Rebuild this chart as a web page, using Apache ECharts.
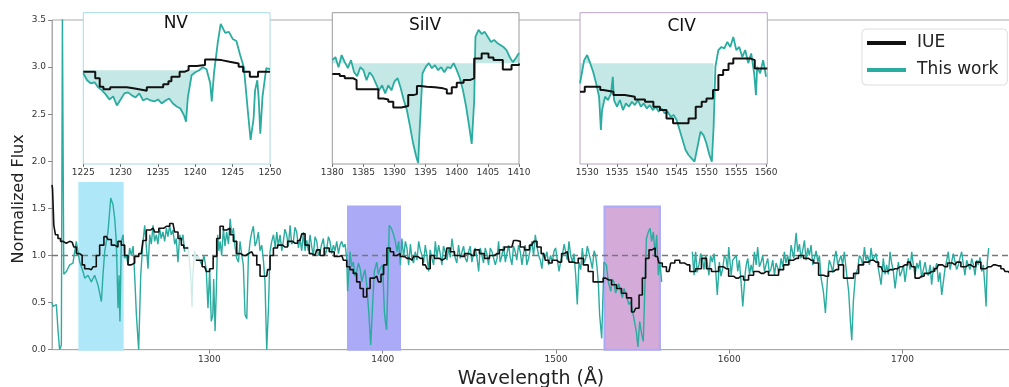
<!DOCTYPE html>
<html><head><meta charset="utf-8">
<script src="https://cdn.jsdelivr.net/npm/echarts@6/dist/echarts.min.js"></script>
<style>html,body{margin:0;padding:0;background:#fff}#c{width:1009px;height:387px}</style>
</head><body><div id="c"></div>
<script>
// ---------- DATA (wavelength in Å, normalized flux) ----------
const xTicksMain = [1300, 1400, 1500, 1600, 1700];
const yTicksMain = [0, 0.5, 1.0, 1.5, 2.0, 2.5, 3.0, 3.5];

// IUE spectrum (main panel)
const iueMain = [[1209.2,1.75],[1209.8,1.71],[1210.7,1.32],[1211.7,1.22],[1213.6,1.18],[1214.6,1.15],[1216.5,1.13],[1218.4,1.15],[1220.4,1.14],[1221.3,1.16],[1222.3,1.09],[1224.2,1.02],[1226.1,1.0],[1227.1,0.9],[1229.0,0.86],[1231.9,0.85],[1233.8,0.88],[1235.7,1.0],[1237.7,1.11],[1240.6,1.2],[1242.5,1.17],[1244.4,1.11],[1246.3,1.09],[1248.2,1.15],[1250.2,1.11],[1252.1,1.0],[1254.0,0.9],[1255.9,0.92],[1257.9,0.99],[1260.7,1.02],[1262.7,1.16],[1264.6,1.27],[1267.5,1.29],[1269.4,1.25],[1272.3,1.29],[1275.2,1.31],[1279.0,1.34],[1280.9,1.25],[1282.9,1.18],[1284.8,1.11],[1285.7,1.08],[1290,null],
[1294.4,0.95],[1297.3,0.88],[1299.2,0.83],[1301.1,0.86],[1303.3,0.99],[1305.2,1.18],[1307.1,1.31],[1309.0,1.27],[1311.0,1.29],[1312.9,1.22],[1314.8,1.15],[1316.8,1.02],[1319.6,1.0],[1322.5,1.02],[1324.5,1.04],[1326.4,1.0],[1328.3,0.9],[1330.2,0.78],[1333.1,0.78],[1334.1,0.85],[1336.0,1.0],[1337.9,1.08],[1340.8,1.11],[1343.7,1.09],[1346.6,1.15],[1349.5,1.13],[1352.3,1.16],[1354.3,1.23],[1356.2,1.11],[1359.1,1.02],[1361.0,1.0],[1362.9,1.06],[1364.8,1.0],[1367.7,1.08],[1370.6,1.04],[1373.5,0.99],[1376.4,1.0],[1378.3,0.95],[1380.2,0.88],[1382.1,0.85],[1384.0,0.81],[1386.0,0.72],[1387.9,0.65],[1389.8,0.56],[1391.8,0.65],[1393.7,0.76],[1396.6,0.78],[1398.5,0.72],[1399.6,0.8],[1401.5,0.9],[1403.4,1.08],[1405.4,1.04],[1407.3,1.0],[1409.2,1.02],[1411.1,0.99],[1414.0,0.97],[1416.9,0.95],[1418.8,0.99],[1421.7,0.97],[1424.6,0.9],[1426.5,0.86],[1428.4,1.0],[1431.3,0.97],[1434.2,0.95],[1436.1,0.97],[1438.1,1.08],[1440.0,1.04],[1442.9,1.0],[1445.8,0.99],[1448.6,1.02],[1451.5,1.0],[1454.4,1.06],[1457.3,1.02],[1460.2,0.97],[1463.1,1.0],[1465.9,1.02],[1468.8,1.06],[1471.7,1.09],[1474.6,1.09],[1476.5,1.16],[1478.4,1.15],[1480.4,1.09],[1483.3,1.06],[1486.1,1.11],[1488.1,1.15],[1490.0,1.09],[1492.9,1.02],[1494.8,0.95],[1496.7,0.92],[1498.9,0.95],[1501.8,0.93],[1504.7,1.02],[1506.6,1.04],[1508.5,0.93],[1511.4,0.92],[1514.3,0.97],[1517.2,0.9],[1520.0,0.83],[1522.9,0.72],[1525.8,0.72],[1528.7,0.76],[1530.6,0.74],[1533.5,0.69],[1536.4,0.65],[1539.3,0.6],[1542.2,0.55],[1545.0,0.4],[1547.0,0.44],[1548.9,0.58],[1550.8,0.76],[1552.7,0.97],[1554.7,1.06],[1556.0,1.08],[1558.5,0.99],[1560.4,0.92],[1562.3,0.88],[1565.2,0.83],[1567.2,0.92],[1570.0,0.95],[1572.9,0.92],[1575.8,0.9],[1578.7,0.83],[1582.5,0.86],[1585.4,0.97],[1588.3,0.86],[1591.2,0.83],[1592.4,0.83],[1595.3,0.88],[1598.2,0.86],[1601.1,0.78],[1603.9,0.76],[1606.8,0.78],[1609.7,0.74],[1612.6,0.79],[1615.5,0.83],[1618.4,0.81],[1621.2,0.83],[1624.1,0.79],[1627.0,0.79],[1629.9,0.85],[1632.8,0.9],[1635.7,0.95],[1638.6,0.97],[1641.4,1.0],[1644.3,0.97],[1647.2,0.95],[1650.1,0.92],[1653.0,0.79],[1655.9,0.78],[1658.7,0.83],[1661.6,0.85],[1664.5,0.9],[1667.4,0.76],[1670.3,0.76],[1673.2,0.81],[1676.1,0.9],[1678.9,0.93],[1681.8,0.95],[1684.7,0.93],[1687.6,0.88],[1689.9,0.83],[1692.8,0.85],[1695.7,0.86],[1698.5,0.88],[1701.4,0.9],[1704.3,0.93],[1706.2,0.88],[1708.2,0.76],[1711.0,0.78],[1713.9,0.81],[1716.8,0.83],[1719.7,0.86],[1721.6,0.9],[1724.5,0.88],[1727.4,0.92],[1730.3,0.9],[1732.2,0.93],[1735.1,0.88],[1738.0,0.9],[1740.8,0.88],[1743.7,0.93],[1746.6,0.86],[1749.5,0.88],[1752.4,0.9],[1755.3,0.89],[1758.2,0.86],[1760.1,0.83],[1762.0,0.81]];

// "This work" spectrum (main panel)
const workMain = [[1209.2,0.5],[1209.8,0.46],[1210.7,0.44],[1211.7,0.48],[1212.7,0.2],[1213.6,0.0],[1214.6,0.05],[1215.2,3.6],[1216.0,0.8],[1217.5,0.83],[1219.4,0.9],[1221.3,0.92],[1223.2,1.15],[1224.2,1.04],[1225.2,0.93],[1227.1,0.83],[1228.1,0.76],[1230.0,0.79],[1231.9,0.72],[1233.8,0.79],[1235.7,0.69],[1237.7,0.51],[1238.6,0.79],[1239.6,1.04],[1241.5,1.25],[1243.1,1.61],[1244.4,1.54],[1245.4,1.39],[1246.3,1.15],[1247.3,0.44],[1247.9,0.79],[1248.4,0.3],[1249.2,1.15],[1250.2,1.22],[1251.1,0.97],[1252.1,1.0],[1253.1,0.9],[1254.0,1.08],[1255.0,1.0],[1256.0,1.1],[1256.9,0.79],[1257.9,0.37],[1259.2,0.0],[1260.4,0.79],[1261.7,1.15],[1262.7,1.32],[1263.6,1.1],[1264.6,0.86],[1265.6,1.22],[1266.5,1.12],[1267.5,1.32],[1268.4,1.15],[1269.4,1.22],[1270.3,1.12],[1271.3,1.29],[1272.2,1.18],[1273.2,1.25],[1274.2,1.15],[1275.2,1.29],[1276.1,1.2],[1277.1,1.32],[1278.0,1.22],[1279.0,1.27],[1280.0,1.12],[1280.9,1.18],[1281.9,0.93],[1282.9,1.22],[1283.8,1.15],[1284.8,1.22],[1285.7,1.04],[1290,null],
[1294.4,0.95],[1295.7,0.9],[1296.9,1.0],[1298.2,0.85],[1299.2,0.44],[1300.2,0.85],[1301.1,0.3],[1302.0,0.37],[1302.5,0.75],[1303.3,0.2],[1304.0,0.62],[1304.8,1.22],[1305.5,1.05],[1306.2,1.15],[1307.1,1.0],[1308.1,1.29],[1309.0,1.1],[1310.0,1.25],[1311.0,1.12],[1312.0,1.39],[1312.9,1.22],[1313.9,1.29],[1314.8,1.1],[1315.8,0.97],[1316.8,0.93],[1317.7,1.15],[1318.7,1.0],[1319.6,0.9],[1320.6,0.37],[1321.6,0.33],[1322.5,0.97],[1323.5,1.15],[1324.5,1.25],[1325.4,1.31],[1326.4,1.1],[1327.3,1.15],[1328.3,1.25],[1329.2,1.05],[1330.2,1.11],[1331.2,0.95],[1332.1,0.72],[1333.1,0.0],[1334.1,0.44],[1335.0,1.04],[1336.0,1.15],[1337.0,1.22],[1338.0,1.08],[1338.9,1.25],[1339.8,1.1],[1340.8,1.22],[1341.8,1.05],[1342.7,1.15],[1343.6,1.28],[1344.6,1.22],[1345.6,1.1],[1346.6,1.32],[1347.5,1.12],[1348.5,1.15],[1349.4,1.3],[1350.4,1.25],[1351.4,1.08],[1352.3,1.18],[1353.3,1.05],[1354.3,1.25],[1355.2,1.05],[1356.2,1.16],[1357.1,1.05],[1358.1,1.22],[1359.0,1.1],[1360.0,1.0],[1361.0,1.2],[1362.0,1.15],[1362.9,1.0],[1363.9,1.04],[1364.8,1.12],[1365.8,1.18],[1366.8,1.0],[1367.7,1.06],[1368.7,1.2],[1369.6,1.15],[1370.6,1.02],[1371.6,1.11],[1372.5,1.05],[1373.5,1.15],[1374.5,1.02],[1375.4,1.11],[1376.4,1.15],[1377.3,1.09],[1378.3,1.12],[1379.3,0.97],[1379.8,0.62],[1381.2,1.04],[1382.1,0.88],[1383.1,0.93],[1384.0,0.78],[1385.0,0.83],[1386.0,0.92],[1387.0,0.86],[1388.0,0.72],[1388.9,0.79],[1389.8,0.85],[1390.8,0.69],[1392.1,0.37],[1393.1,0.05],[1394.1,0.44],[1395.2,0.83],[1396.6,0.93],[1397.5,0.8],[1398.5,0.86],[1400.0,0.9],[1401.0,0.4],[1401.7,0.28],[1402.3,0.21],[1403.1,0.79],[1403.8,1.32],[1405.0,1.29],[1406.3,1.22],[1407.3,1.15],[1408.3,1.04],[1409.2,1.15],[1410.2,0.9],[1411.1,1.18],[1412.1,0.98],[1413.1,1.15],[1414.0,1.08],[1415.0,0.9],[1416.0,1.12],[1416.9,0.97],[1417.8,0.92],[1418.8,1.04],[1419.8,0.95],[1420.8,1.15],[1421.7,1.06],[1422.7,1.0],[1423.6,0.92],[1424.6,1.11],[1425.5,1.0],[1426.5,0.83],[1427.4,1.06],[1428.4,0.97],[1429.4,0.9],[1430.4,1.15],[1431.3,0.98],[1432.3,1.11],[1433.2,1.02],[1434.2,0.9],[1435.1,1.1],[1436.1,1.04],[1437.1,0.95],[1438.1,1.08],[1439.0,0.98],[1440.0,1.18],[1440.9,1.06],[1441.9,0.97],[1442.8,0.92],[1443.8,1.11],[1444.8,0.97],[1445.8,1.04],[1446.7,1.1],[1447.7,0.97],[1448.6,0.93],[1449.6,1.04],[1450.5,1.1],[1451.5,0.93],[1452.4,1.02],[1453.4,1.08],[1454.4,0.98],[1455.4,0.83],[1456.3,1.08],[1457.3,1.0],[1458.2,0.92],[1459.2,1.08],[1460.1,1.02],[1461.1,0.9],[1462.1,1.08],[1463.1,1.04],[1464.0,1.06],[1465.0,0.9],[1466.0,0.97],[1466.9,1.15],[1467.8,0.93],[1468.8,1.0],[1469.8,1.1],[1470.8,0.93],[1471.7,1.02],[1472.7,1.11],[1473.6,0.98],[1474.6,0.9],[1475.5,1.1],[1476.5,1.04],[1477.4,0.95],[1478.4,1.11],[1479.4,1.04],[1480.4,0.9],[1481.3,1.02],[1482.3,1.11],[1483.2,0.9],[1484.2,0.97],[1485.1,1.06],[1486.1,1.15],[1487.1,1.0],[1488.1,1.22],[1489.0,1.1],[1490.0,1.0],[1491.0,0.95],[1491.9,0.86],[1492.8,1.03],[1493.8,0.97],[1494.8,1.04],[1495.8,0.9],[1496.9,1.0],[1497.9,0.93],[1498.9,1.05],[1499.8,1.08],[1500.8,0.95],[1501.8,0.83],[1502.8,0.95],[1503.7,1.0],[1504.7,1.12],[1505.6,1.11],[1506.6,0.95],[1507.5,1.15],[1508.5,1.0],[1509.5,0.93],[1510.4,1.02],[1511.4,0.79],[1512.3,0.48],[1513.3,0.93],[1514.3,0.85],[1515.2,1.08],[1516.2,0.92],[1517.2,0.97],[1518.1,1.1],[1519.1,1.08],[1520.0,0.95],[1521.0,0.86],[1522.0,1.05],[1522.9,1.0],[1523.7,0.88],[1524.5,0.69],[1525.2,0.37],[1526.4,0.12],[1527.7,0.93],[1529.1,0.9],[1530.2,0.72],[1531.6,0.62],[1532.5,0.75],[1533.5,0.72],[1534.4,0.6],[1535.4,0.65],[1536.3,0.7],[1537.3,0.62],[1538.3,0.55],[1539.3,0.65],[1540.2,0.6],[1541.2,0.58],[1542.1,0.48],[1543.1,0.51],[1545.0,0.33],[1546.4,0.19],[1547.3,0.03],[1548.3,0.3],[1549.5,0.16],[1550.4,0.09],[1551.4,0.72],[1552.2,1.18],[1553.3,1.25],[1554.3,1.29],[1555.2,1.15],[1556.2,1.25],[1557.2,1.0],[1558.1,1.22],[1559.1,0.79],[1560.0,0.93],[1561.0,0.72],[1570,null],
[1578.7,1.04],[1579.2,0.9],[1579.7,0.79],[1580.1,0.95],[1580.6,1.04],[1581.5,0.82],[1582.5,0.9],[1583.5,1.02],[1584.5,0.97],[1585.4,0.85],[1586.4,1.0],[1587.3,0.92],[1588.3,0.79],[1589.2,1.0],[1590.2,0.93],[1591.2,1.02],[1592.2,0.83],[1593.1,0.58],[1594.3,0.93],[1595.2,0.78],[1596.2,0.86],[1597.2,1.0],[1598.2,0.97],[1599.0,0.85],[1599.7,1.09],[1601.1,0.79],[1602.0,0.95],[1603.0,0.93],[1604.0,1.0],[1604.9,0.83],[1605.8,0.95],[1606.8,0.72],[1607.8,0.46],[1609.3,0.83],[1610.0,0.92],[1610.7,0.97],[1611.7,0.8],[1612.6,0.9],[1613.5,0.82],[1614.5,1.04],[1615.5,0.9],[1616.4,1.09],[1617.4,0.88],[1618.4,0.93],[1619.3,1.0],[1620.3,0.83],[1621.2,0.9],[1622.2,0.97],[1623.1,0.82],[1624.1,0.86],[1625.1,0.95],[1626.1,0.79],[1627.0,0.92],[1628.0,0.9],[1628.9,0.82],[1629.9,0.97],[1630.9,0.88],[1631.8,1.04],[1632.7,0.92],[1633.7,1.0],[1634.7,0.9],[1635.7,1.11],[1637.2,0.97],[1638.6,1.24],[1639.5,1.04],[1640.5,1.12],[1641.4,0.97],[1642.4,1.06],[1643.4,1.16],[1644.3,0.95],[1645.3,1.08],[1646.2,1.0],[1647.2,1.11],[1648.2,0.9],[1649.1,0.97],[1650.1,1.05],[1651.1,0.93],[1652.0,1.0],[1653.0,0.76],[1654.3,0.62],[1655.5,0.39],[1656.8,0.79],[1657.7,0.95],[1658.7,0.9],[1659.7,0.82],[1660.7,0.97],[1661.6,1.05],[1662.6,0.9],[1663.5,0.95],[1664.5,1.0],[1665.4,0.9],[1666.4,1.04],[1667.8,0.79],[1668.9,0.62],[1669.9,0.3],[1670.7,0.1],[1671.6,0.51],[1672.8,0.79],[1674.1,0.86],[1675.1,1.0],[1676.1,0.97],[1677.0,0.9],[1678.0,1.09],[1678.9,0.95],[1679.9,1.0],[1680.9,0.9],[1681.8,1.08],[1682.8,0.95],[1683.7,0.93],[1684.7,1.02],[1685.7,0.9],[1686.6,0.8],[1687.6,0.69],[1688.9,0.97],[1689.9,0.8],[1690.8,0.9],[1691.8,0.8],[1692.8,1.04],[1693.7,0.92],[1694.7,0.83],[1695.7,0.65],[1696.6,0.8],[1697.6,0.93],[1698.5,0.78],[1699.5,0.83],[1700.5,0.9],[1701.4,0.72],[1702.4,0.85],[1703.3,0.97],[1704.3,0.85],[1705.3,1.04],[1706.2,0.9],[1707.2,0.79],[1708.2,0.92],[1709.1,0.86],[1710.1,0.95],[1711.0,0.76],[1712.0,0.85],[1713.0,0.93],[1713.9,0.82],[1714.9,0.79],[1715.9,0.9],[1716.8,0.69],[1717.8,0.88],[1718.7,0.83],[1719.7,0.92],[1720.7,0.72],[1721.6,0.82],[1722.6,0.58],[1724.5,0.86],[1725.5,0.95],[1726.4,1.04],[1727.4,0.85],[1728.3,0.93],[1729.3,1.02],[1730.3,1.0],[1731.2,0.85],[1732.2,0.9],[1733.2,0.98],[1734.1,1.04],[1735.1,0.9],[1736.0,0.79],[1737.0,0.95],[1738.0,0.93],[1738.9,0.85],[1739.9,0.97],[1740.9,0.9],[1741.8,0.79],[1742.8,0.95],[1743.7,0.9],[1744.7,0.98],[1745.7,0.83],[1746.6,0.9],[1747.6,0.65],[1748.2,0.46],[1748.9,0.93],[1749.7,1.08]];

// faint detector-gap segment of "This work"
const workGap = [[1285.7,1.04],[1286.5,1.05],[1287.5,1.1],[1288.5,0.95],[1289.5,0.7],[1290.0,0.45],[1290.5,0.8],[1291.5,1.05],[1292.5,0.95],[1293.5,1.0],[1294.4,0.95]];

// highlighted line regions in the main panel
const bandStart = [1225, 1380, 1528];
const bandEnd = [1250, 1410, 1560];
const bandTop = [1.77, 1.52, 1.52];
const continuumLevel = 1.0;

// ---- Insets (flux in inset units 0..1.5) ----
const insetNames = ['NV', 'SiIV', 'CIV'];
const insetRanges = [[1225, 1250], [1380, 1410], [1528.8, 1560.2]];
const doubletBlue = [1238.8, 1393.76, 1548.2];
const doubletOrange = [1242.8, 1402.77, 1550.8];
const fillLevel = [0.93, 1.0, 1.0];
const fillEnd = [1241.3, 1410, 1551.4];
const nvGrayBand = [1241.3, 1250, 0.86, 0.965];

const nvWork = [[1225.0,0.9],[1225.5,0.83],[1226.0,0.8],[1226.5,0.81],[1227.0,0.76],[1227.5,0.73],[1228.0,0.69],[1228.5,0.64],[1229.0,0.67],[1229.5,0.58],[1230.0,0.64],[1230.5,0.7],[1231.0,0.71],[1231.5,0.68],[1232.0,0.66],[1232.5,0.7],[1233.0,0.63],[1233.5,0.65],[1234.0,0.63],[1234.5,0.62],[1235.0,0.64],[1235.5,0.6],[1236.0,0.63],[1236.5,0.65],[1237.0,0.6],[1237.5,0.57],[1238.0,0.55],[1238.5,0.48],[1238.75,0.42],[1239.0,0.66],[1239.5,0.88],[1240.0,0.91],[1240.5,0.93],[1241.0,0.96],[1241.5,0.94],[1242.0,0.8],[1242.2,0.62],[1242.5,0.9],[1243.0,1.2],[1243.4,1.39],[1244.0,1.3],[1244.5,1.31],[1245.0,1.24],[1245.5,1.22],[1246.0,1.08],[1246.5,0.96],[1247.0,0.55],[1247.4,0.24],[1247.8,0.45],[1248.0,0.73],[1248.3,0.83],[1248.5,0.63],[1248.7,0.3],[1249.0,0.67],[1249.5,0.95],[1250.0,0.94]];
const nvIue = [[1225,0.915],[1226.6,0.849],[1227.2,0.766],[1227.7,0.74],[1228.6,0.76],[1229.7,0.76],[1230.8,0.75],[1231.7,0.733],[1233.0,0.726],[1233.5,0.76],[1234.6,0.76],[1235.7,0.79],[1236.4,0.82],[1236.8,0.865],[1237.9,0.915],[1238.6,0.931],[1239.1,0.971],[1240.2,0.981],[1241.3,1.037],[1242.4,1.03],[1243.5,1.014],[1244.6,0.997],[1245.8,0.964],[1246.4,0.915],[1247.3,0.865],[1248.4,0.915],[1249.6,0.915],[1250,0.915]];

const siWork = [[1380.0,1.03],[1380.5,1.06],[1381.0,0.96],[1381.5,1.08],[1382.0,1.01],[1382.5,0.95],[1383.0,1.03],[1383.5,0.91],[1384.0,0.87],[1384.5,0.96],[1385.0,0.93],[1385.5,0.83],[1386.0,0.91],[1386.5,0.87],[1387.0,0.8],[1387.5,0.73],[1388.0,0.78],[1388.5,0.7],[1389.0,0.78],[1389.5,0.73],[1390.0,0.82],[1390.5,0.85],[1391.0,0.75],[1391.5,0.63],[1392.0,0.53],[1392.5,0.37],[1393.0,0.2],[1393.5,0.07],[1393.8,0.01],[1394.0,0.3],[1394.5,0.9],[1395.0,0.96],[1395.5,1.0],[1396.0,0.95],[1396.5,0.98],[1397.0,0.93],[1397.5,0.96],[1398.0,0.91],[1398.5,0.96],[1399.0,0.95],[1399.5,1.0],[1400.0,0.93],[1400.5,0.85],[1401.0,0.73],[1401.5,0.57],[1402.0,0.37],[1402.4,0.2],[1402.8,0.63],[1403.0,1.26],[1403.5,1.33],[1404.0,1.29],[1404.5,1.31],[1405.0,1.26],[1405.5,1.21],[1406.0,1.23],[1406.5,1.2],[1407.0,1.18],[1407.5,1.16],[1408.0,1.13],[1408.5,1.06],[1409.0,1.01],[1409.5,1.05],[1410.0,1.1]];
const siIue = [[1380,0.892],[1381.2,0.872],[1382,0.849],[1383.4,0.832],[1383.9,0.74],[1386.6,0.74],[1387.4,0.65],[1388.2,0.64],[1389,0.617],[1389.8,0.561],[1391.1,0.574],[1392.2,0.683],[1393,0.693],[1393.6,0.773],[1394.1,0.766],[1395.2,0.76],[1396.5,0.75],[1397.8,0.74],[1398.4,0.7],[1399.2,0.76],[1400,0.806],[1401.1,0.832],[1402.1,0.849],[1402.8,1.047],[1404,1.096],[1405.1,1.057],[1405.9,1.03],[1407.4,0.938],[1408.8,0.981],[1410,0.997]];

const cWork = [[1528.8,0.8],[1529.0,0.865],[1529.5,1.03],[1530.0,1.08],[1530.5,1.0],[1531.0,0.915],[1531.5,0.8],[1532.0,0.667],[1532.3,0.337],[1532.5,0.535],[1533.0,0.667],[1533.5,0.634],[1534.0,0.7],[1534.3,0.865],[1534.5,0.634],[1535.0,0.568],[1535.5,0.634],[1536.0,0.535],[1536.5,0.6],[1537.0,0.568],[1537.5,0.617],[1538.0,0.584],[1538.5,0.634],[1539.0,0.568],[1539.5,0.6],[1540.0,0.551],[1540.5,0.584],[1541.0,0.535],[1541.5,0.568],[1542.0,0.518],[1542.5,0.551],[1543.0,0.502],[1543.5,0.518],[1544.0,0.469],[1544.5,0.485],[1545.0,0.436],[1545.5,0.337],[1546.0,0.237],[1546.5,0.138],[1547.0,0.089],[1547.5,0.056],[1548.0,0.023],[1548.3,0.006],[1548.5,0.171],[1549.0,0.32],[1549.5,0.287],[1550.0,0.204],[1550.5,0.089],[1550.9,0.023],[1551.2,0.37],[1551.5,0.964],[1552.0,1.13],[1552.5,1.16],[1553.0,1.146],[1553.5,1.21],[1554.0,1.16],[1554.5,1.26],[1555.0,1.13],[1555.5,1.16],[1556.0,1.06],[1556.5,1.13],[1557.0,1.0],[1557.5,1.096],[1558.0,0.898],[1558.3,0.683],[1558.5,0.964],[1559.0,0.898],[1559.5,1.03],[1560.0,0.865]];
const cIue = [[1528.8,0.716],[1529.6,0.766],[1532.2,0.733],[1532.7,0.716],[1534.4,0.683],[1536.3,0.667],[1538,0.64],[1539.7,0.617],[1541.1,0.568],[1542.2,0.535],[1543.3,0.452],[1544.4,0.403],[1547,0.452],[1548.2,0.568],[1549.2,0.617],[1550,0.65],[1551.1,0.733],[1552,0.882],[1552.8,0.931],[1553.7,0.997],[1554.5,1.047],[1556.7,1.047],[1557.3,1.03],[1558.1,0.948],[1560.2,0.948]];

const insetWork = [nvWork, siWork, cWork];
const insetIue = [nvIue, siIue, cIue];

// ---------- STYLE / LAYOUT ----------
const FONT = 'DejaVu Sans';
const TEAL = '#2aaca0';
const TEAL_FILL = 'rgba(42,172,160,0.28)';
const bandColors = ['#aee8f8', '#aaaaf6', '#d4aad9'];
const bandBorders = ['#aee8f8', '#aaaaf6', '#aaaaf6'];
const insetBorder = ['#a6dbe6', '#9a9a9a', '#b8a4c8'];
const insetLeft = [83.3, 332.3, 580];
const insetWidth = [186.7, 186.7, 187.3];
const plainNum = v => String(Math.round(v * 1000) / 1000);

const grids = [{left: 52, top: 20, right: -1, bottom: 37.3, show: true, borderColor: '#aaa', borderWidth: 1, z: 0,
  outerBoundsMode: 'none', containLabel: false}];
const xAxes = [{
  type: 'value', gridIndex: 0, min: 1209.2, max: 1762, minInterval: 100, maxInterval: 100,
  axisLine: {show: true, lineStyle: {color: '#aaa'}}, axisTick: {show: true, length: 4, lineStyle: {color: '#888'}},
  axisLabel: {fontSize: 9, color: '#333', fontFamily: FONT, margin: 5, showMinLabel: false, showMaxLabel: false, formatter: plainNum},
  splitLine: {show: false},
  name: 'Wavelength (Å)', nameLocation: 'middle', nameGap: 20, nameMoveOverlap: false,
  nameTextStyle: {fontSize: 19, color: '#222', fontFamily: FONT}
}];
const yAxes = [{
  type: 'value', gridIndex: 0, min: 0, max: 3.5, interval: 0.5,
  axisLine: {show: true, lineStyle: {color: '#aaa'}}, axisTick: {show: true, length: 4, lineStyle: {color: '#888'}},
  axisLabel: {fontSize: 9, color: '#333', fontFamily: FONT, margin: 6, formatter: v => v.toFixed(1)},
  splitLine: {show: false},
  name: 'Normalized Flux', nameLocation: 'middle', nameGap: 25, nameMoveOverlap: false,
  nameTextStyle: {fontSize: 16, color: '#222', fontFamily: FONT, padding: [0, 28, 0, 0]}
}];

const series = [];
series.push({
  type: 'line', xAxisIndex: 0, yAxisIndex: 0, z: 1, symbol: 'none', silent: true,
  data: [[1209.2, continuumLevel], [1762, continuumLevel]],
  lineStyle: {color: '#777', width: 1.5, type: [6, 4]},
  markArea: {silent: true, data: bandStart.map((s, i) => [
    {xAxis: s, yAxis: 0, itemStyle: {color: bandColors[i], borderColor: bandBorders[i], borderWidth: 2, opacity: 1}},
    {xAxis: bandEnd[i], yAxis: bandTop[i]}
  ])}
});
series.push({type: 'line', xAxisIndex: 0, yAxisIndex: 0, z: 2, symbol: 'none', data: workGap,
  lineStyle: {color: '#cdece8', width: 1.3}});
series.push({name: 'This work', type: 'line', xAxisIndex: 0, yAxisIndex: 0, z: 2, symbol: 'none', data: workMain,
  connectNulls: false, itemStyle: {color: TEAL}, lineStyle: {color: TEAL, width: 1.4}});
series.push({name: 'IUE', type: 'line', step: 'middle', xAxisIndex: 0, yAxisIndex: 0, z: 3, symbol: 'none', data: iueMain,
  connectNulls: false, itemStyle: {color: '#111'}, lineStyle: {color: '#111', width: 1.6}});

const graphics = [];
for (let k = 0; k < 3; k++) {
  const gi = k + 1;
  grids.push({left: insetLeft[k], top: 12.7, width: insetWidth[k], height: 151.3, show: true,
    backgroundColor: '#fff', borderColor: insetBorder[k], borderWidth: 1, z: 10, outerBoundsMode: 'none', containLabel: false});
  xAxes.push({type: 'value', gridIndex: gi, min: insetRanges[k][0], max: insetRanges[k][1], minInterval: 5, maxInterval: 5, z: 11,
    axisLine: {show: false}, axisTick: {show: true, length: 3, lineStyle: {color: '#777'}},
    axisLabel: {fontSize: 9, color: '#333', fontFamily: FONT, margin: 4, formatter: plainNum,
      showMinLabel: k < 2, showMaxLabel: k < 2},
    splitLine: {show: false}});
  yAxes.push({type: 'value', gridIndex: gi, min: 0, max: 1.5, show: false, splitLine: {show: false}});
  series.push({type: 'line', xAxisIndex: gi, yAxisIndex: gi, z: 12, symbol: 'none', silent: true,
    data: insetWork[k].filter(p => p[0] <= fillEnd[k]),
    lineStyle: {width: 0}, areaStyle: {origin: fillLevel[k], color: TEAL_FILL, opacity: 1},
    markArea: k === 0 ? {silent: true, itemStyle: {color: 'rgba(190,190,190,0.6)'},
      data: [[{xAxis: nvGrayBand[0], yAxis: nvGrayBand[2]}, {xAxis: nvGrayBand[1], yAxis: nvGrayBand[3]}]]} : undefined
  });
  series.push({type: 'line', xAxisIndex: gi, yAxisIndex: gi, z: 13, symbol: 'none', data: insetWork[k],
    lineStyle: {color: TEAL, width: 1.8}});
  series.push({type: 'line', step: 'end', xAxisIndex: gi, yAxisIndex: gi, z: 14, symbol: 'none', data: insetIue[k],
    lineStyle: {color: '#111', width: 2},
    markLine: {silent: true, symbol: 'none', label: {show: false},
      data: [
        {xAxis: doubletBlue[k], lineStyle: {color: '#2b6fa6', width: 1.4, type: [4, 3]}},
        {xAxis: doubletOrange[k], lineStyle: {color: '#e7922c', width: 2, type: [4, 3]}}
      ]}
  });
}
graphics.push({type: 'text', x: 188, y: 24, z: 50, style: {text: insetNames[0], fontSize: 17, fontFamily: FONT, fill: '#111', textAlign: 'right', align: 'right', textVerticalAlign: 'middle', verticalAlign: 'middle'}});
graphics.push({type: 'text', x: 409, y: 26, z: 50, style: {text: insetNames[1], fontSize: 17, fontFamily: FONT, fill: '#111', textAlign: 'left', align: 'left', textVerticalAlign: 'middle', verticalAlign: 'middle'}});
graphics.push({type: 'text', x: 696, y: 26.5, z: 50, style: {text: insetNames[2], fontSize: 17, fontFamily: FONT, fill: '#111', textAlign: 'right', align: 'right', textVerticalAlign: 'middle', verticalAlign: 'middle'}});

const chart = echarts.init(document.getElementById('c'), null, {renderer: 'canvas'});
chart.setOption({
  animation: false,
  backgroundColor: '#fff',
  grid: grids, xAxis: xAxes, yAxis: yAxes, series: series, graphic: graphics,
  legend: {
    data: ['IUE', 'This work'], orient: 'vertical', left: 862, top: 29, z: 60,
    backgroundColor: '#fff', borderColor: '#ddd', borderWidth: 1, borderRadius: 4,
    padding: [4, 9, 5, 5], itemGap: 7, itemWidth: 39, itemHeight: 4, icon: 'rect',
    textStyle: {fontSize: 17, fontFamily: FONT, color: '#222', lineHeight: 20, padding: [0, 0, 0, 6]}
  }
});
</script></body></html>
